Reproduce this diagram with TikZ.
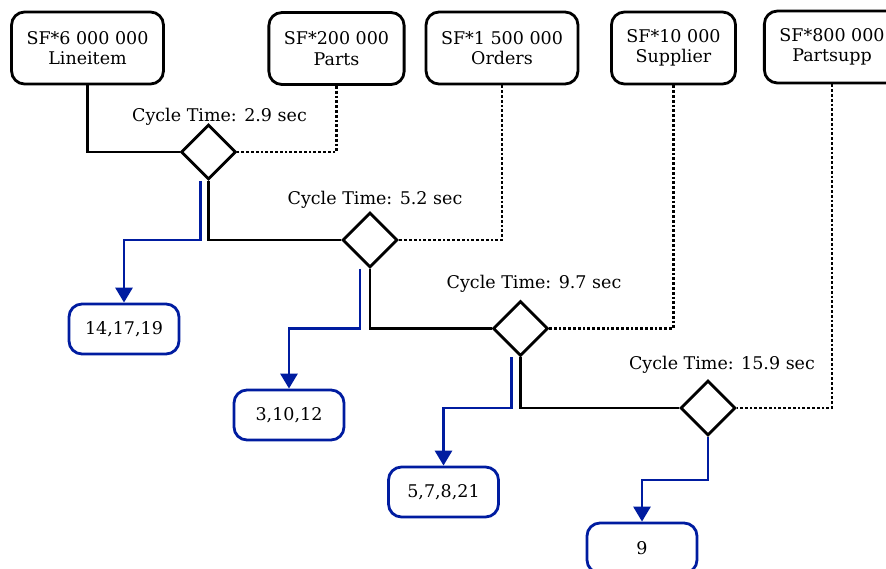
\documentclass[tikz,border=0pt]{standalone}
\usepackage{fontspec}
\setmainfont{DejaVu Serif}
\usepackage{xcolor}
\usepackage{tikz}
\usetikzlibrary{shapes.geometric,arrows.meta}
\definecolor{resultblue}{RGB}{0,28,160}

\begin{document}
\begin{tikzpicture}[x=1pt,y=-1pt,
        font=\fontsize{17.5}{20.5}\selectfont,
        table node/.style={rectangle,rounded corners=13pt,draw,line width=2.8pt,align=center,inner xsep=15pt,minimum height=72pt},
        join node/.style={diamond,draw,line width=2.8pt,minimum size=55pt,inner sep=0pt},
        result node/.style={rectangle,rounded corners=13pt,draw=resultblue,line width=2.8pt,minimum width=110pt,minimum height=50pt},
        time label/.style={inner sep=0pt,anchor=base},
        main edge/.style={draw,line width=2.8pt},
        probe edge/.style={draw,line width=2.8pt,dotted},
        result edge/.style={draw=resultblue,line width=2.8pt,-{Triangle[width=17pt,length=15pt]}}
      ]
      \useasboundingbox (0,0) rectangle (886,568);
      \clip (0,0) rectangle (886,568);

      % tables along the top
      \node[table node] (lineitem) at (87.5,48)  {SF*6 000 000\\Lineitem};
      \node[table node] (parts)    at (336.5,48.5) {SF*200 000\\Parts};
      \node[table node] (orders)   at (502,48)   {SF*1 500 000\\Orders};
      \node[table node] (supplier) at (673.5,48) {SF*10 000\\Supplier};
      \node[table node] (partsupp) at (832,47)   {SF*800 000\\Partsupp};

      % joins
      \node[join node] (j1) at (208.5,152) {};
      \node[join node] (j2) at (370,240)   {};
      \node[join node] (j3) at (520.5,328.5) {};
      \node[join node] (j4) at (708,408)   {};

      \node[time label] (t1) at (219.5,121) {Cycle Time: 2.9 sec};
      \node[time label] (t2) at (375,204)   {Cycle Time: 5.2 sec};
      \node[time label] (t3) at (534,288)   {Cycle Time: 9.7 sec};
      \node[time label] (t4) at (722,369)   {Cycle Time: 15.9 sec};

      % query results
      \node[result node] (r1) at (124,329)   {14,17,19};
      \node[result node] (r2) at (289,415)   {3,10,12};
      \node[result node] (r3) at (443.5,492) {5,7,8,21};
      \node[result node] (r4) at (642,548)   {9};

      % build and probe sides
      \draw[main edge] (lineitem) |- (j1);
      \draw[probe edge] (parts) |- (j1);
      \draw[main edge] (j1) |- (j2);
      \draw[probe edge] (orders) |- (j2);
      \draw[main edge] (j2) |- (j3);
      \draw[probe edge] (supplier) |- (j3);
      \draw[main edge] (j3) |- (j4);
      \draw[probe edge] (partsupp) |- (j4);

      % results
      \draw[result edge] ([xshift=-8pt]j1.south) -- ([xshift=-8pt]j1.south |- j2.west) -| (r1.north);
      \draw[result edge] ([xshift=-10pt]j2.south) -- ([xshift=-10pt]j2.south |- j3.west) -| (r2.north);
      \draw[result edge] ([xshift=-9pt]j3.south) -- ([xshift=-9pt]j3.south |- j4.west) -| (r3.north);
      \draw[result edge] (j4.south) -- ++(0,43) -| (r4.north);
    \end{tikzpicture}
\end{document}
